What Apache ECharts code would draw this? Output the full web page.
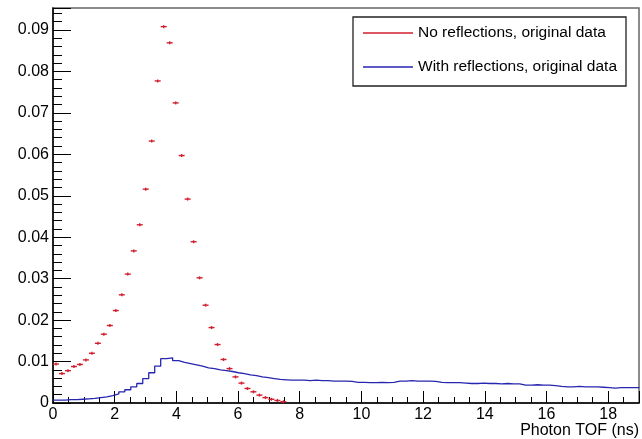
<!DOCTYPE html>
<html>
<head>
<meta charset="utf-8">
<script src="https://cdn.jsdelivr.net/npm/echarts@6/dist/echarts.min.js"></script>
<style>
  html, body { margin: 0; padding: 0; background: #fff; }
  #chart { width: 642px; height: 439px; }
</style>
</head>
<body>
<div id="chart"></div>
<script>
// bin width of both histograms (ns)
const binWidth = 0.194;

// No reflections: one value per bin, drawn as points with x error bars
const noReflections = [
  0.0094, 0.0071, 0.0078, 0.0088, 0.0093, 0.0104, 0.0120, 0.0144, 0.0166, 0.0187,
  0.0223, 0.0261, 0.0311, 0.0367, 0.0430, 0.0516, 0.0632, 0.0777, 0.0908, 0.0869,
  0.0724, 0.0597, 0.0492, 0.0389, 0.0302, 0.0236, 0.0182, 0.0141, 0.0105, 0.0083,
  0.0063, 0.0048, 0.0035, 0.0027, 0.0019, 0.0013, 0.0009, 0.0006, 0.0003
];

// With reflections: one value per bin, drawn as a step histogram
const withReflections = [
  0.0007, 0.0007, 0.0008, 0.0008, 0.0009, 0.0010, 0.0011, 0.0013, 0.0015, 0.0018,
  0.0022, 0.0027, 0.0032, 0.0039, 0.0047, 0.0059, 0.0073, 0.0089, 0.0107, 0.0109,
  0.0102, 0.0098, 0.0095, 0.0092, 0.0089, 0.0085, 0.0083, 0.0080, 0.0078, 0.0076,
  0.0073, 0.0071, 0.0068, 0.0066, 0.0063, 0.0061, 0.0059, 0.0057, 0.0056, 0.0055,
  0.0055, 0.0055, 0.0054, 0.0055, 0.0054, 0.0054, 0.0053, 0.0053, 0.0053, 0.0052,
  0.0050, 0.0050, 0.0049, 0.0049, 0.0050, 0.0049, 0.0050, 0.0053, 0.0053, 0.0054,
  0.0053, 0.0053, 0.0053, 0.0052, 0.0050, 0.0049, 0.0049, 0.0049, 0.0048, 0.0047,
  0.0047, 0.0048, 0.0047, 0.0047, 0.0046, 0.0047, 0.0046, 0.0046, 0.0043, 0.0043,
  0.0044, 0.0043, 0.0043, 0.0042, 0.0040, 0.0039, 0.0039, 0.0040, 0.0039, 0.0039,
  0.0039, 0.0038, 0.0037, 0.0036, 0.0037, 0.0037, 0.0037, 0.0037
];

const seriesNames = ['No reflections, original data', 'With reflections, original data'];

const redColor = '#d11f2e';
const blueColor = '#2626b0';
const font = 'Liberation Sans, Arial, sans-serif';

// points at bin centres for the error-bar series
const redData = noReflections.map((v, i) => [(i + 0.5) * binWidth, v]);
// step histogram: left edge of each bin, plus the closing right edge
const blueData = withReflections.map((v, i) => [i * binWidth, v]);
blueData.push([withReflections.length * binWidth, withReflections[withReflections.length - 1]]);

let myChart = echarts.init(document.getElementById('chart'));

let option = {
  animation: false,
  grid: {
    left: 53,
    right: 0,
    top: 8,
    bottom: 36,
    show: true,
    borderColor: '#666',
    borderWidth: 1.5,
  },
  legend: {
    orient: 'vertical',
    left: 353,
    top: 17,
    padding: [7, 9, 10, 10],
    itemWidth: 50,
    itemHeight: 1.5,
    itemGap: 16,
    borderColor: '#222',
    borderWidth: 1.3,
    textStyle: { fontSize: 15.5, lineHeight: 18, fontFamily: font, color: '#000' },
    data: [
      { name: seriesNames[0], icon: 'rect' },
      { name: seriesNames[1], icon: 'rect' },
    ],
  },
  xAxis: {
    type: 'value',
    min: 0,
    max: 19.0,
    interval: 2,
    name: 'Photon TOF (ns)',
    nameLocation: 'end',
    nameGap: 0,
    nameTextStyle: {
      fontSize: 16,
      fontFamily: font,
      color: '#000',
      align: 'right',
      verticalAlign: 'top',
      padding: [20, 0, 0, 0],
    },
    axisLine: { show: true, onZero: false, lineStyle: { color: '#000', width: 1.5 } },
    axisTick: { show: true, inside: true, length: 12, lineStyle: { color: '#000', width: 1 } },
    minorTick: { show: true, splitNumber: 4, length: 6, lineStyle: { color: '#000', width: 1 } },
    axisLabel: {
      fontSize: 16,
      fontFamily: font,
      color: '#000',
      margin: 4,
      showMaxLabel: false,
    },
    splitLine: { show: false },
  },
  yAxis: {
    type: 'value',
    min: 0,
    max: 0.0953,
    interval: 0.01,
    axisLine: { show: true, onZero: false, lineStyle: { color: '#000', width: 1.5 } },
    axisTick: { show: true, inside: true, length: 18, lineStyle: { color: '#000', width: 1 } },
    minorTick: { show: true, splitNumber: 5, length: 9, lineStyle: { color: '#000', width: 1 } },
    axisLabel: {
      fontSize: 16,
      fontFamily: font,
      color: '#000',
      margin: 4,
      showMaxLabel: false,
      formatter: function (v) {
        return v === 0 ? '0' : v.toFixed(2);
      },
    },
    splitLine: { show: false },
  },
  series: [
    {
      name: seriesNames[0],
      type: 'custom',
      itemStyle: { color: redColor },
      data: redData,
      z: 3,
      renderItem: function (params, api) {
        const x = api.value(0);
        const y = api.value(1);
        const left = api.coord([x - binWidth / 2, y]);
        const right = api.coord([x + binWidth / 2, y]);
        const mid = api.coord([x, y]);
        const style = { stroke: redColor, lineWidth: 1.4 };
        return {
          type: 'group',
          children: [
            { type: 'line', shape: { x1: left[0], y1: left[1], x2: right[0], y2: right[1] }, style: style },
            { type: 'line', shape: { x1: mid[0], y1: mid[1] - 1.5, x2: mid[0], y2: mid[1] + 1.5 }, style: style },
          ],
        };
      },
    },
    {
      name: seriesNames[1],
      type: 'line',
      step: 'end',
      showSymbol: false,
      data: blueData,
      itemStyle: { color: blueColor },
      lineStyle: { color: blueColor, width: 1.3 },
      z: 2,
    },
  ],
};
myChart.setOption(option);
</script>
</body>
</html>
